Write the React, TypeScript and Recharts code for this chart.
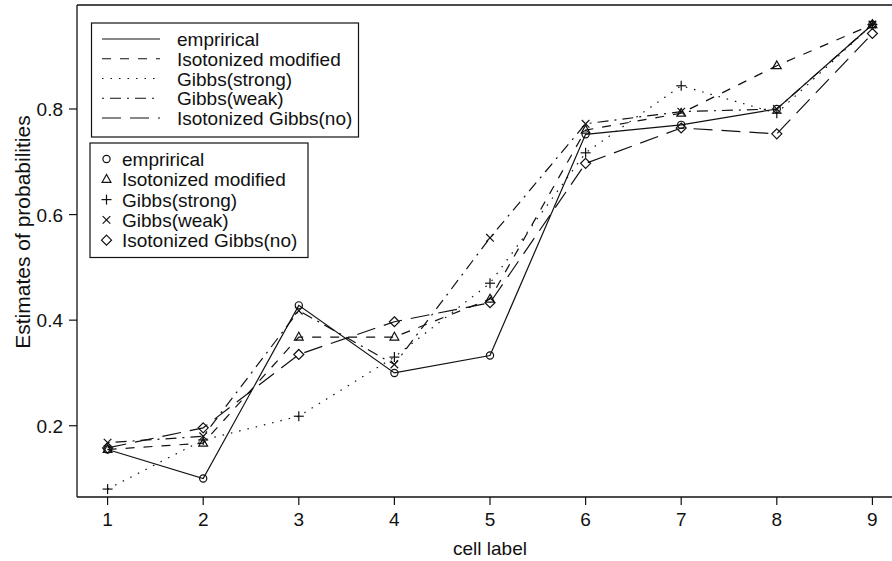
import React from "react";
import { Legend, Line, LineChart, ReferenceLine, XAxis, YAxis } from "recharts";

// cell labels on the x axis
const CELLS = [1, 2, 3, 4, 5, 6, 7, 8, 9];
const Y_TICKS = [0.2, 0.4, 0.6, 0.8];

// estimates, one array per method
const EMPIRICAL = [0.155, 0.1, 0.428, 0.3, 0.333, 0.752, 0.77, 0.8, 0.96];
const ISO_MODIFIED = [0.155, 0.167, 0.368, 0.368, 0.44, 0.76, 0.792, 0.882, 0.96];
const GIBBS_STRONG = [0.08, 0.173, 0.218, 0.33, 0.47, 0.717, 0.844, 0.792, 0.96];
const GIBBS_WEAK = [0.168, 0.18, 0.418, 0.316, 0.556, 0.772, 0.795, 0.8, 0.96];
const ISO_GIBBS_NO = [0.158, 0.196, 0.335, 0.397, 0.433, 0.697, 0.764, 0.753, 0.943];

const FONT = "'Liberation Sans', Arial, Helvetica, sans-serif";
const INK = "#111";

type MarkerKind = "circle" | "triangle" | "plus" | "cross" | "diamond";

const series = [
  { key: "emp", name: "emprirical", values: EMPIRICAL, dash: undefined, marker: "circle" as MarkerKind },
  { key: "isoMod", name: "Isotonized modified", values: ISO_MODIFIED, dash: "9 9", marker: "triangle" as MarkerKind },
  { key: "strong", name: "Gibbs(strong)", values: GIBBS_STRONG, dash: "1.5 7", marker: "plus" as MarkerKind },
  { key: "weak", name: "Gibbs(weak)", values: GIBBS_WEAK, dash: "2 6 11 6", marker: "cross" as MarkerKind },
  { key: "isoNo", name: "Isotonized Gibbs(no)", values: ISO_GIBBS_NO, dash: "19 9", marker: "diamond" as MarkerKind },
];

const data = CELLS.map((cell, i) => {
  const row: Record<string, number> = { cell };
  series.forEach((s) => (row[s.key] = s.values[i]));
  return row;
});

function Marker({ kind, cx, cy }: { kind: MarkerKind; cx: number; cy: number }) {
  const p = { stroke: INK, strokeWidth: 1.2, fill: "none" };
  switch (kind) {
    case "circle":
      return <circle cx={cx} cy={cy} r={3.6} {...p} />;
    case "triangle":
      return <polygon points={`${cx},${cy - 4.8} ${cx - 4.4},${cy + 3} ${cx + 4.4},${cy + 3}`} {...p} />;
    case "plus":
      return (
        <g {...p}>
          <line x1={cx - 5} y1={cy} x2={cx + 5} y2={cy} />
          <line x1={cx} y1={cy - 5} x2={cx} y2={cy + 5} />
        </g>
      );
    case "cross":
      return (
        <g {...p}>
          <line x1={cx - 3.8} y1={cy - 3.8} x2={cx + 3.8} y2={cy + 3.8} />
          <line x1={cx - 3.8} y1={cy + 3.8} x2={cx + 3.8} y2={cy - 3.8} />
        </g>
      );
    default:
      return <polygon points={`${cx},${cy - 5} ${cx + 5},${cy} ${cx},${cy + 5} ${cx - 5},${cy}`} {...p} />;
  }
}

function XTick({ x, y, payload }: any) {
  return (
    <text x={x} y={y + 18.5} textAnchor="middle" fontSize={19} fontFamily={FONT} fill={INK}>
      {payload.value}
    </text>
  );
}

function YTick({ x, y, payload }: any) {
  return (
    <text x={x - 4} y={y + 7} textAnchor="end" fontSize={19} fontFamily={FONT} fill={INK}>
      {payload.value.toFixed(1)}
    </text>
  );
}

// two boxed legends drawn in chart coordinates, like R's legend()
function LegendBoxes() {
  const txt = { fontSize: 19, fontFamily: FONT, fill: INK };
  return (
    <svg width={380} height={270} style={{ display: "block" }}>
      <rect x={91.5} y={23} width={267} height={114} fill="#fff" stroke={INK} strokeWidth={1.2} />
      {series.map((s, i) => {
        const y = 39 + i * 19.75;
        return (
          <g key={s.key}>
            <line x1={102} x2={160} y1={y} y2={y} stroke={INK} strokeWidth={1.2} strokeDasharray={s.dash} />
            <text x={177} y={y + 7} {...txt}>
              {s.name}
            </text>
          </g>
        );
      })}
      <rect x={90} y={143} width={218} height={114.5} fill="#fff" stroke={INK} strokeWidth={1.2} />
      {series.map((s, i) => {
        const y = 159 + i * 20.3;
        return (
          <g key={s.key}>
            <Marker kind={s.marker} cx={106.5} cy={y} />
            <text x={122} y={y + 7} {...txt}>
              {s.name}
            </text>
          </g>
        );
      })}
    </svg>
  );
}

export default function App() {
  return (
    <div
      style={{
        position: "absolute",
        left: 0,
        top: 0,
        width: 892,
        height: 561,
        overflow: "hidden",
        background: "#fff",
        fontFamily: FONT,
      }}
    >
      <LineChart width={920} height={561} data={data} margin={{ top: 5, right: 17, bottom: 4, left: 7 }}>
        <XAxis
          type="number"
          dataKey="cell"
          domain={[0.68, 9.32]}
          ticks={CELLS}
          interval={0}
          allowDataOverflow
          height={60}
          tickSize={8}
          tick={<XTick />}
          axisLine={{ stroke: INK, strokeWidth: 1.3 }}
          tickLine={{ stroke: INK, strokeWidth: 1.2 }}
        />
        <YAxis
          type="number"
          domain={[0.065, 0.997]}
          ticks={Y_TICKS}
          interval={0}
          allowDataOverflow
          width={70}
          tickSize={8}
          tick={<YTick />}
          axisLine={{ stroke: INK, strokeWidth: 1.3 }}
          tickLine={{ stroke: INK, strokeWidth: 1.2 }}
        />
        <ReferenceLine y={0.997} stroke={INK} strokeWidth={1.3} />
        {series.map((s) => (
          <Line
            key={s.key}
            type="linear"
            dataKey={s.key}
            name={s.name}
            stroke={INK}
            strokeWidth={1.2}
            strokeDasharray={s.dash}
            dot={(props: any) => (
              <Marker key={`${s.key}-${props.index}`} kind={s.marker} cx={props.cx} cy={props.cy} />
            )}
            activeDot={false}
            isAnimationActive={false}
          />
        ))}
        <Legend
          layout="horizontal"
          verticalAlign="middle"
          align="center"
          content={() => <LegendBoxes />}
          wrapperStyle={{ position: "absolute", left: 0, top: 0, width: 380, height: 270, pointerEvents: "none" }}
        />
      </LineChart>
      <div
        style={{
          position: "absolute",
          left: 490,
          top: 548,
          transform: "translate(-50%, -50%)",
          fontSize: 19,
          whiteSpace: "nowrap",
          color: INK,
          lineHeight: 1,
        }}
      >
        cell label
      </div>
      <div
        style={{
          position: "absolute",
          left: 22,
          top: 232,
          transform: "translate(-50%, -50%) rotate(-90deg)",
          fontSize: 21,
          whiteSpace: "nowrap",
          color: INK,
          lineHeight: 1,
        }}
      >
        Estimates of probabilities
      </div>
    </div>
  );
}
